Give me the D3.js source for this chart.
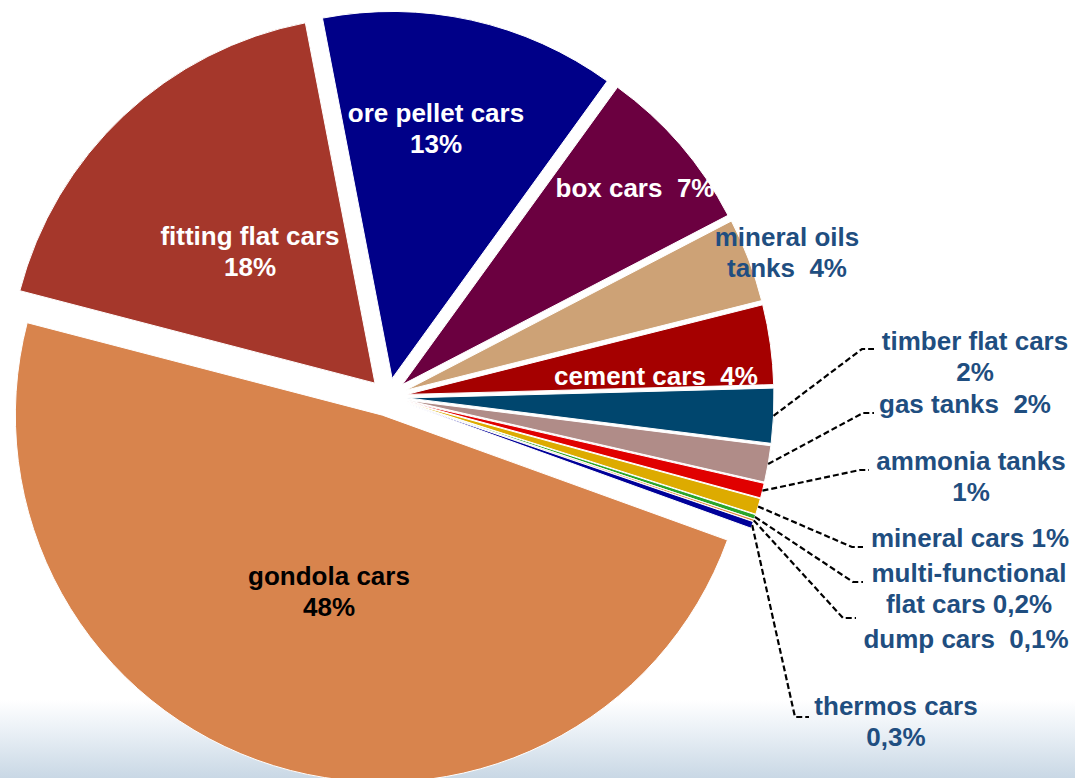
<!DOCTYPE html>
<html>
<head>
<meta charset="utf-8">
<script src="https://cdn.jsdelivr.net/npm/d3@7"></script>
<style>
  html, body { margin: 0; padding: 0; background: #fff; }
  svg { display: block; }
  .lbl { font-family: "Liberation Sans", Arial, sans-serif; font-weight: bold; font-size: 26px; white-space: pre; }
</style>
</head>
<body>
<script>
// slices, clockwise from the big one at the bottom
var categories = ["gondola cars", "fitting flat cars", "ore pellet cars", "box cars", "mineral oils tanks",
                  "cement cars", "timber flat cars", "gas tanks", "ammonia tanks", "mineral cars",
                  "multi-functional flat cars", "dump cars", "thermos cars"];
var values = [48.5, 17.9, 13.0, 7.4, 3.7, 3.5, 2.4, 1.6, 0.65, 0.7, 0.2, 0.1, 0.3];
var labelText = [["gondola cars", "48%"], ["fitting flat cars", "18%"], ["ore pellet cars", "13%"],
                 ["box cars  7%"], ["mineral oils", "tanks  4%"], ["cement cars  4%"],
                 ["timber flat cars", "2%"], ["gas tanks  2%"], ["ammonia tanks", "1%"],
                 ["mineral cars 1%"], ["multi-functional", "flat cars 0,2%"], ["dump cars  0,1%"],
                 ["thermos cars", "0,3%"]];

var colors = ["#d8844d", "#a5372b", "#000088", "#6b0040", "#cda276", "#a50000", "#00466e",
              "#b08c88", "#e00000", "#ddab00", "#2aa52a", "#e08a40", "#000099"];
var textColors = ["#000", "#fff", "#fff", "#fff", "#1f4e80", "#fff",
                  "#1f4e80", "#1f4e80", "#1f4e80", "#1f4e80", "#1f4e80", "#1f4e80", "#1f4e80"];

// label layout: centre x, first baseline y
var labelPos = [[329, 585], [250, 245], [436, 122], [635, 197], [787, 246], [656, 385],
                [975, 350], [965, 413], [971, 470], [970, 547], [969, 582], [966, 648], [896, 715]];
// leader elbows for the outside labels: [elbow x, elbow y, end x]
var leaders = {6: [862, 349, 874], 7: [863, 413, 874], 8: [860, 470, 869], 9: [852, 547, 863],
               10: [853, 582, 863], 11: [843, 618, 856], 12: [795, 717, 809]};

var W = 1075, H = 778;
var cx = 388, cy = 397, R = 367, explode = 19, lineH = 31;
var a0 = 109.9 * Math.PI / 180;

var svg = d3.select("body").append("svg").attr("width", W).attr("height", H);

// faint sky at the bottom
var defs = svg.append("defs");
var grad = defs.append("linearGradient").attr("id", "sky").attr("x1", 0).attr("y1", 0).attr("x2", 0).attr("y2", 1);
grad.append("stop").attr("offset", "0%").attr("stop-color", "#ffffff");
grad.append("stop").attr("offset", "40%").attr("stop-color", "#eaf0f6");
grad.append("stop").attr("offset", "100%").attr("stop-color", "#c9d8e5");
svg.append("rect").attr("x", 0).attr("y", 700).attr("width", W).attr("height", H - 700).attr("fill", "url(#sky)");

var pie = d3.pie().sort(null).value(function(d) { return d; })
    .startAngle(a0).endAngle(a0 + 2 * Math.PI);
var arcs = pie(values);

var arc = d3.arc().innerRadius(0).outerRadius(R);
var edgeArc = d3.arc().innerRadius(R).outerRadius(R);

function offset(a) {
  var mid = (a.startAngle + a.endAngle) / 2;
  return [explode * Math.sin(mid), -explode * Math.cos(mid)];
}

var g = svg.append("g").attr("transform", "translate(" + cx + "," + cy + ")");

g.selectAll("path.slice").data(arcs).enter().append("path")
  .attr("class", "slice")
  .attr("d", arc)
  .attr("fill", function(d, i) { return colors[i]; })
  .attr("stroke", "#fff")
  .attr("stroke-width", 1)
  .attr("transform", function(d) { var o = offset(d); return "translate(" + o[0] + "," + o[1] + ")"; });

// leader lines
arcs.forEach(function(d, i) {
  if (!leaders[i]) return;
  var o = offset(d);
  var p = edgeArc.centroid(d);
  var sx = cx + o[0] + p[0], sy = cy + o[1] + p[1];
  var L = leaders[i];
  svg.append("path")
    .attr("d", d3.line()([[sx, sy], [L[0], L[1]], [L[2], L[1]]]))
    .attr("fill", "none")
    .attr("stroke", "#000")
    .attr("stroke-width", 2.2)
    .attr("stroke-dasharray", "6,3");
});

// labels
labelText.forEach(function(lines, i) {
  var t = svg.append("text").attr("class", "lbl")
    .attr("text-anchor", "middle")
    .attr("fill", textColors[i]);
  lines.forEach(function(s, k) {
    t.append("tspan").attr("x", labelPos[i][0]).attr("y", labelPos[i][1] + k * lineH).text(s);
  });
});
</script>
</body>
</html>
